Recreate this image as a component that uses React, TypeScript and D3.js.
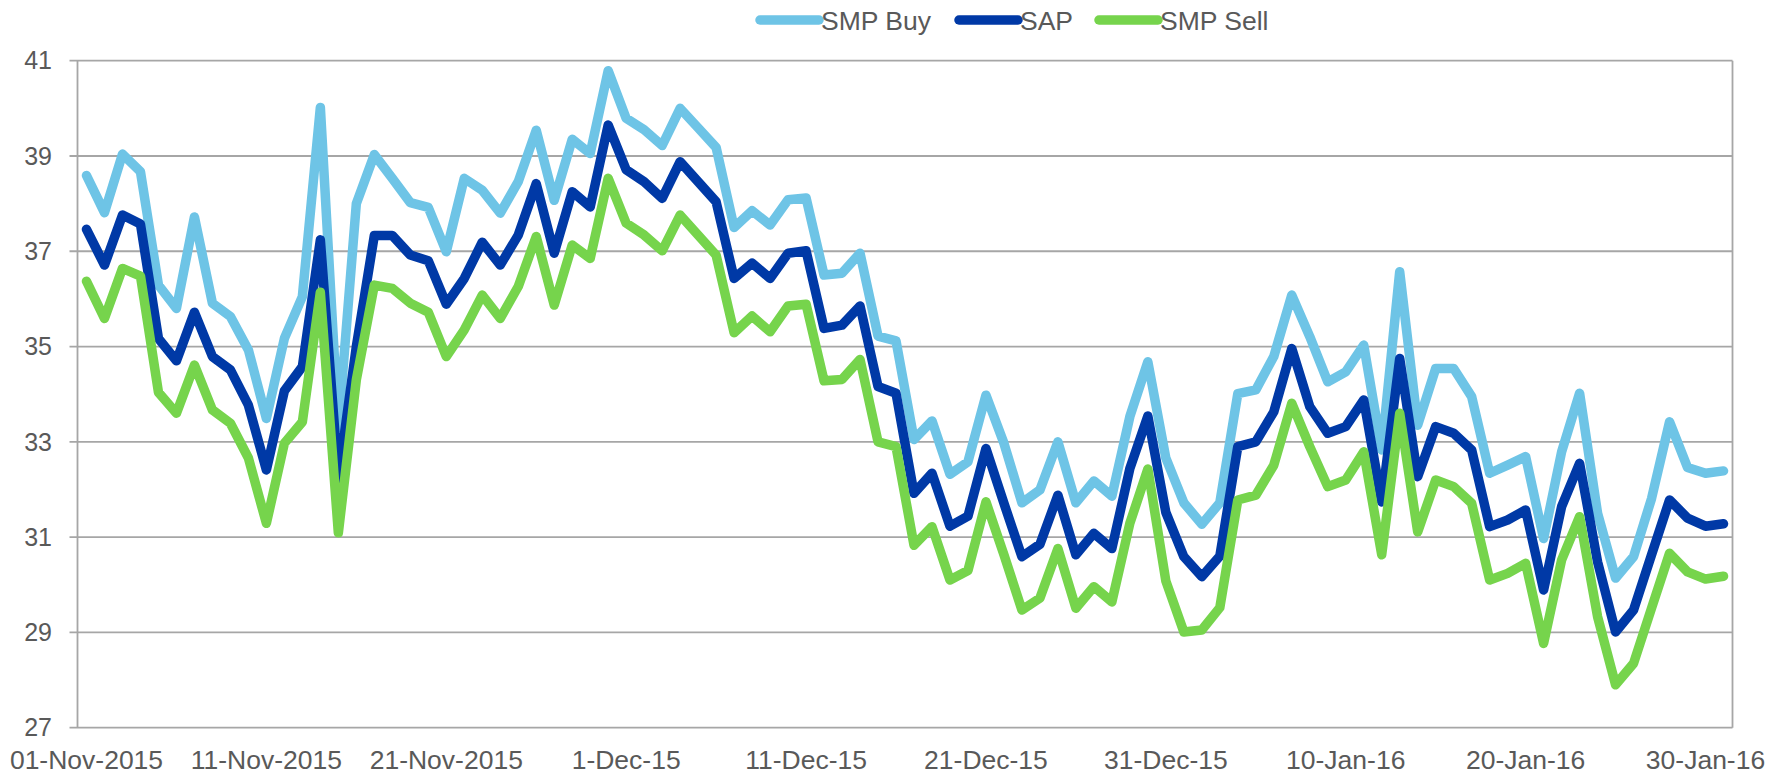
import React, { useEffect, useRef } from "react";
import * as d3 from "d3";

// daily prices, 01-Nov-2015 .. 31-Jan-2016
const startDay = new Date(2015, 10, 1);
const endDay = new Date(2016, 1, 1);

const smpBuy = [
  38.59, 37.81, 39.04, 38.67, 36.29, 35.8, 37.72, 35.91, 35.63, 34.93,
  33.49, 35.17, 36.05, 40.02, 33.3, 38.0, 39.03, 38.53, 38.02, 37.92,
  36.99, 38.53, 38.28, 37.8, 38.46, 39.54, 38.07, 39.35, 39.05, 40.79,
  39.79, 39.55, 39.22, 40.0, 39.59, 39.18, 37.5, 37.85, 37.55, 38.08,
  38.12, 36.5, 36.54, 36.96, 35.22, 35.12, 33.05, 33.44, 32.32, 32.58,
  33.98, 32.97, 31.72, 31.99, 33.0, 31.72, 32.18, 31.86, 33.53, 34.68,
  32.66, 31.72, 31.27, 31.72, 34.01, 34.09, 34.79, 36.08, 35.21, 34.26,
  34.47, 35.03, 32.83, 36.57, 33.35, 34.54, 34.54, 33.95, 32.34, 32.51,
  32.69, 30.97, 32.79, 34.02, 31.5, 30.14, 30.59, 31.81, 33.42, 32.46,
  32.34, 32.39,
];

const sap = [
  37.46, 36.71, 37.76, 37.57, 35.17, 34.7, 35.72, 34.79, 34.51, 33.77,
  32.41, 34.07, 34.58, 37.24, 32.23, 35.0, 37.33, 37.33, 36.92, 36.8,
  35.89, 36.43, 37.19, 36.71, 37.34, 38.42, 36.96, 38.25, 37.93, 39.65,
  38.71, 38.46, 38.11, 38.88, 38.46, 38.04, 36.43, 36.75, 36.43, 36.96,
  37.01, 35.38, 35.45, 35.85, 34.16, 34.02, 31.92, 32.34, 31.23, 31.44,
  32.86, 31.71, 30.59, 30.85, 31.88, 30.63, 31.08, 30.76, 32.44, 33.54,
  31.52, 30.59, 30.17, 30.6, 32.9, 33.0, 33.63, 34.96, 33.74, 33.18,
  33.32, 33.88, 31.74, 34.75, 32.27, 33.32, 33.18, 32.83, 31.22, 31.36,
  31.57, 29.89, 31.64, 32.55, 30.48, 29.01, 29.47, 30.63, 31.78, 31.4,
  31.23, 31.28,
];

const smpSell = [
  36.37, 35.59, 36.64, 36.48, 34.04, 33.6, 34.61, 33.67, 33.39, 32.66,
  31.29, 32.97, 33.42, 36.14, 31.09, 34.3, 36.29, 36.22, 35.91, 35.72,
  34.79, 35.35, 36.08, 35.59, 36.26, 37.31, 35.87, 37.13, 36.85, 38.53,
  37.59, 37.34, 37.01, 37.76, 37.34, 36.92, 35.29, 35.64, 35.31, 35.85,
  35.89, 34.28, 34.31, 34.73, 33.0, 32.9, 30.83, 31.22, 30.1, 30.3,
  31.74, 30.63, 29.47, 29.72, 30.76, 29.51, 29.96, 29.64, 31.29, 32.43,
  30.08, 29.01, 29.05, 29.52, 31.78, 31.88, 32.51, 33.81, 32.9, 32.06,
  32.2, 32.79, 30.63, 33.6, 31.11, 32.2, 32.06, 31.71, 30.1, 30.24,
  30.45, 28.77, 30.52, 31.43, 29.33, 27.9, 28.35, 29.51, 30.66, 30.27,
  30.12, 30.18,
];

const seriesNames = ["SMP Buy", "SAP", "SMP Sell"];
const seriesColors = ["#6ec4e6", "#0039a6", "#76d44c"];

const yTicks = [27, 29, 31, 33, 35, 37, 39, 41];
// label shown every 10th day
const xTickLabels = [
  "01-Nov-2015", "11-Nov-2015", "21-Nov-2015", "1-Dec-15", "11-Dec-15",
  "21-Dec-15", "31-Dec-15", "10-Jan-16", "20-Jan-16", "30-Jan-16",
];

const FONT = "'Liberation Sans', Arial, sans-serif";
const TEXT = "#595959";
const GRID = "#a6a6a6";

function Chart() {
  const ref = useRef<SVGSVGElement>(null);

  useEffect(() => {
    const svg = d3.select(ref.current);
    svg.selectAll("*").remove();

    const width = 1789;
    const height = 774;
    const margin = { top: 60.7, left: 77.5, bottom: 46.3, right: 56.5 };
    const iheight = height - margin.top - margin.bottom;

    const days = d3.timeDay.range(startDay, endDay);
    const series = [smpBuy, sap, smpSell];

    const x = d3
      .scaleBand<number>()
      .domain(days.map((_, i) => i))
      .range([margin.left, width - margin.right]);
    const cx = (i: number) => (x(i) as number) + x.bandwidth() / 2;

    const y = d3
      .scaleLinear()
      .domain([27, 41])
      .range([margin.top + iheight, margin.top]);

    // grid
    const grid = svg.append("g");
    grid
      .selectAll("line.h")
      .data(yTicks)
      .enter()
      .append("line")
      .attr("x1", margin.left - 8)
      .attr("x2", width - margin.right)
      .attr("y1", (d) => y(d))
      .attr("y2", (d) => y(d))
      .attr("stroke", GRID)
      .attr("stroke-width", 1.8);

    grid
      .selectAll("line.v")
      .data([margin.left, width - margin.right])
      .enter()
      .append("line")
      .attr("x1", (d) => d)
      .attr("x2", (d) => d)
      .attr("y1", y(41))
      .attr("y2", y(27))
      .attr("stroke", GRID)
      .attr("stroke-width", 1.8);

    // y labels
    svg
      .append("g")
      .selectAll("text")
      .data(yTicks)
      .enter()
      .append("text")
      .attr("x", 52)
      .attr("y", (d) => y(d))
      .attr("dy", "0.35em")
      .attr("text-anchor", "end")
      .attr("font-family", FONT)
      .attr("font-size", 25)
      .attr("fill", TEXT)
      .text((d) => d);

    // x labels
    svg
      .append("g")
      .selectAll("text")
      .data(xTickLabels)
      .enter()
      .append("text")
      .attr("x", (_, k) => cx(k * 10))
      .attr("y", 769)
      .attr("text-anchor", "middle")
      .attr("font-family", FONT)
      .attr("font-size", 26.5)
      .attr("fill", TEXT)
      .text((d) => d);

    const line = d3
      .line<number>()
      .x((_, i) => cx(i))
      .y((d) => y(d));

    svg
      .append("g")
      .selectAll("path")
      .data(series)
      .enter()
      .append("path")
      .attr("d", (d) => line(d))
      .attr("fill", "none")
      .attr("stroke", (_, k) => seriesColors[k])
      .attr("stroke-width", 9.5)
      .attr("stroke-linejoin", "round")
      .attr("stroke-linecap", "round");

    // legend
    const legendX = [760, 959, 1099];
    const lg = svg
      .append("g")
      .selectAll("g")
      .data(seriesNames)
      .enter()
      .append("g")
      .attr("transform", (_, k) => `translate(${legendX[k]},20)`);
    lg.append("line")
      .attr("x1", 0)
      .attr("x2", 59)
      .attr("stroke", (_, k) => seriesColors[k])
      .attr("stroke-width", 9.5)
      .attr("stroke-linecap", "round");
    lg.append("text")
      .attr("x", 61)
      .attr("dy", "0.36em")
      .attr("font-family", FONT)
      .attr("font-size", 26.5)
      .attr("fill", TEXT)
      .text((d) => d);
  }, []);

  return <svg ref={ref} width={1789} height={774} />;
}

export default function App() {
  return (
    <div style={{ position: "absolute", left: 0, top: 0 }}>
      <Chart />
    </div>
  );
}
